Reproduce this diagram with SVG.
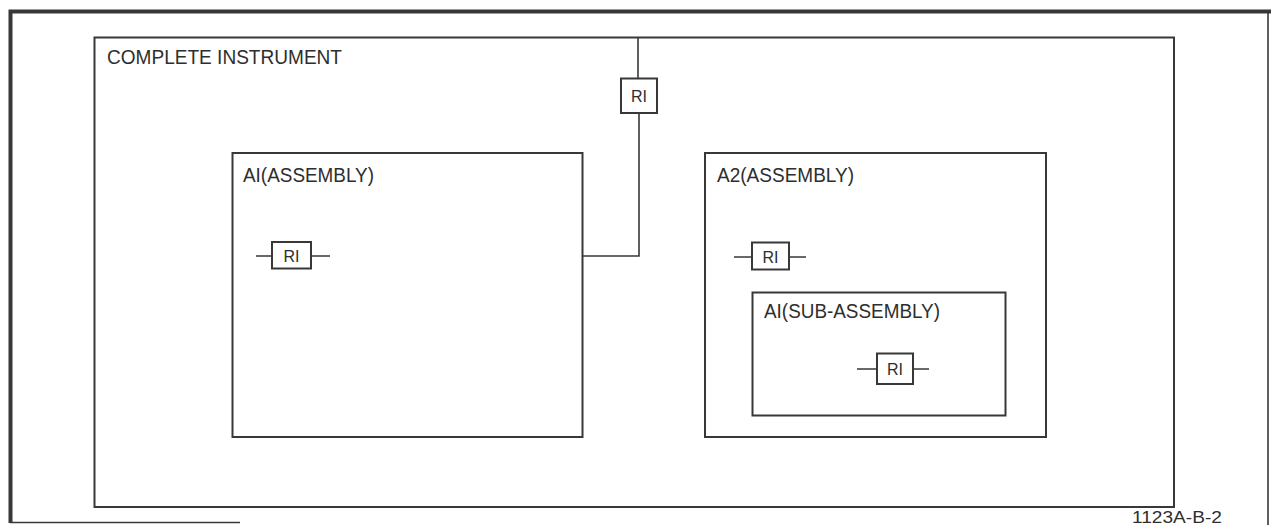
<svg xmlns="http://www.w3.org/2000/svg" width="1271" height="525" viewBox="0 0 1271 525">
<style>
.box{fill:none;stroke:#383838;stroke-width:2}
.frame{fill:none;stroke:#383838;stroke-width:4}
.wire{fill:none;stroke:#383838;stroke-width:1.6}
.lbl{font-family:"Liberation Sans",Arial,sans-serif;font-size:20px;fill:#2e2e2e}
.r{font-family:"Liberation Sans",Arial,sans-serif;font-size:17px;fill:#2e2e2e;text-anchor:middle}
</style>
<rect width="1271" height="525" fill="#ffffff"/>
<g id="frame">
<path class="frame" d="M10.5 523 V11.5 H1271"/>
<path class="wire" d="M1268 12 V525" stroke-width="2.2"/>
<path class="wire" d="M10 522.5 H240" stroke-width="2.5"/>
</g>
<g id="complete-instrument">
<rect class="box" x="94.5" y="37.5" width="1079.5" height="469.5"/>
<text class="lbl" x="107" y="64" textLength="235" lengthAdjust="spacingAndGlyphs">COMPLETE INSTRUMENT</text>
</g>
<g id="r1-top">
<rect class="box" x="621" y="78.5" width="36" height="34.5"/>
<text class="r" x="639" y="102" textLength="16" lengthAdjust="spacingAndGlyphs">RI</text>
</g>
<g id="a1-assembly">
<rect class="box" x="232.5" y="153" width="350" height="284"/>
<text class="lbl" x="243" y="182" textLength="131" lengthAdjust="spacingAndGlyphs">AI(ASSEMBLY)</text>
</g>
<g id="a1-r1">
<rect class="box" x="272" y="242" width="39" height="26.5"/>
<text class="r" x="291.5" y="262" textLength="16" lengthAdjust="spacingAndGlyphs">RI</text>
<path class="wire" d="M256 256 H272 M311 256 H330"/>
</g>
<g id="a2-assembly">
<rect class="box" x="705" y="153" width="341" height="284"/>
<text class="lbl" x="717" y="182" textLength="137" lengthAdjust="spacingAndGlyphs">A2(ASSEMBLY)</text>
</g>
<g id="a2-r1">
<rect class="box" x="752" y="242.5" width="37" height="27"/>
<text class="r" x="770.5" y="262.5" textLength="16" lengthAdjust="spacingAndGlyphs">RI</text>
<path class="wire" d="M734 257 H752 M789 257 H806"/>
</g>
<g id="a1-sub-assembly">
<rect class="box" x="752.5" y="292.5" width="253" height="123"/>
<text class="lbl" x="764" y="318" textLength="176" lengthAdjust="spacingAndGlyphs">AI(SUB-ASSEMBLY)</text>
</g>
<g id="sub-r1">
<rect class="box" x="877" y="353.5" width="36" height="30.5"/>
<text class="r" x="895" y="375" textLength="16" lengthAdjust="spacingAndGlyphs">RI</text>
<path class="wire" d="M857 369 H877 M913 369 H929"/>
</g>
<g id="connectors">
<path class="wire" d="M638 37.5 V78.5"/>
<path class="wire" d="M639 113 V256 H582.5"/>
</g>
<text class="r" x="1177" y="523" textLength="90" lengthAdjust="spacingAndGlyphs" font-size="16">1123A-B-2</text>
</svg>
